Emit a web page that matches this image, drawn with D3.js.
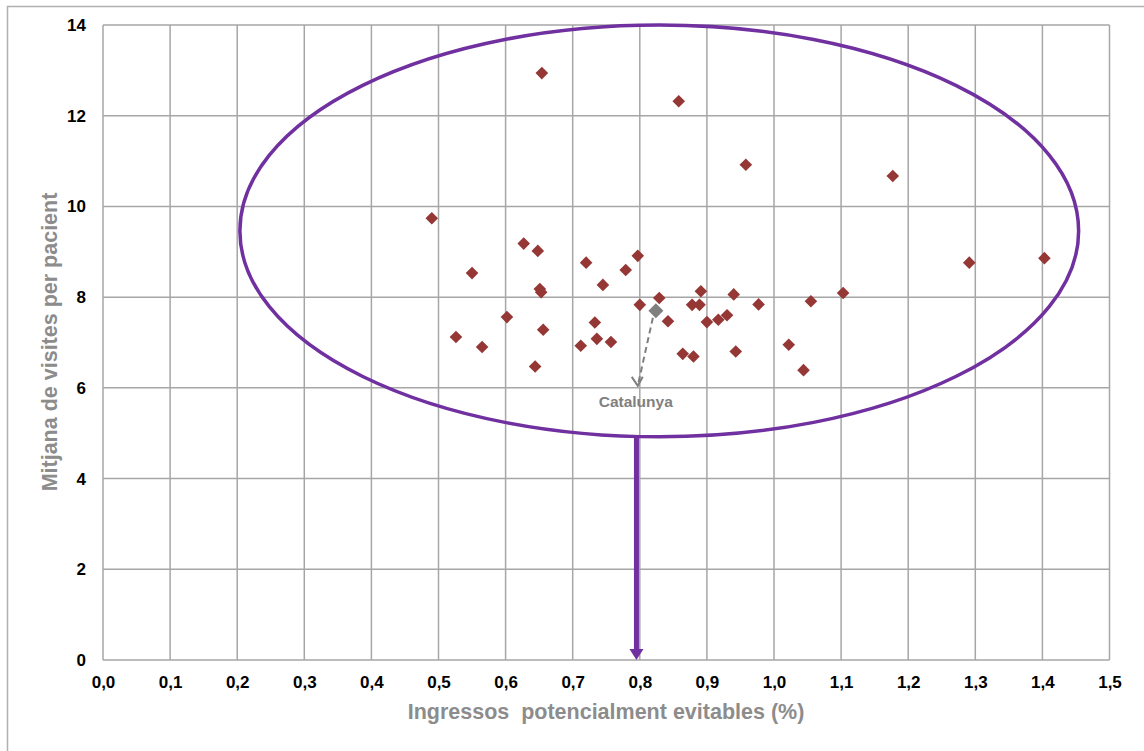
<!DOCTYPE html>
<html><head><meta charset="utf-8">
<script src="https://cdn.jsdelivr.net/npm/d3@7"></script>
<style>body{margin:0;background:#fff}svg{display:block}text{font-family:"Liberation Sans",Arial,sans-serif}</style>
</head><body><svg id="c" width="1144" height="751"></svg>
<script>
const xVals = [0.490,0.550,0.526,0.565,0.602,0.627,0.648,0.651,0.653,0.644,0.656,0.654,0.720,0.745,0.779,0.797,0.712,0.733,0.736,0.757,0.800,0.829,0.842,0.864,0.880,0.891,0.878,0.889,0.940,0.900,0.917,0.930,0.977,0.943,1.022,1.044,1.055,1.103,1.177,1.291,1.403,0.958,0.858];
const yVals = [9.74,8.53,7.12,6.90,7.56,9.18,9.02,8.18,8.11,6.47,7.28,12.94,8.76,8.27,8.60,8.91,6.93,7.44,7.08,7.01,7.83,7.98,7.47,6.75,6.69,8.13,7.83,7.83,8.06,7.45,7.50,7.60,7.84,6.80,6.95,6.39,7.91,8.09,10.67,8.76,8.86,10.92,12.32];
const catalunya = {label:"Catalunya", x:0.824, y:7.70, labelX:0.791, labelY:5.57};
const xTicks = [0,0.1,0.2,0.3,0.4,0.5,0.6,0.7,0.8,0.9,1.0,1.1,1.2,1.3,1.4,1.5];
const yTicks = [0,2,4,6,8,10,12,14];
const ellipse = {cx:0.829, cy:9.46, rx:0.625, ry:4.54};
const arrowX = 0.795;
const xTitle = "Ingressos  potencialment evitables (%)";
const yTitle = "Mitjana de visites per pacient";

const svg = d3.select("#c");
const L=103, R=1109.5, T=25, B=660;
const x = d3.scaleLinear().domain([0,1.5]).range([L,R]);
const y = d3.scaleLinear().domain([0,14]).range([B,T]);
const fmt = d => d.toFixed(1).replace(".", ",");

// outer frame
svg.append("path").attr("d","M7.5,751 V6.5 H1144").attr("fill","none").attr("stroke","#b0b0b0").attr("stroke-width",1.5);

// grid
const grid = svg.append("g").attr("stroke","#a6a6a6").attr("stroke-width",1.5);
xTicks.forEach(t=>grid.append("line").attr("x1",x(t)).attr("x2",x(t)).attr("y1",T).attr("y2",B));
yTicks.forEach(t=>grid.append("line").attr("x1",L).attr("x2",R).attr("y1",y(t)).attr("y2",y(t)));

// axes labels via d3 axes
const xa = svg.append("g").attr("transform",`translate(0,${B})`).call(d3.axisBottom(x).tickValues(xTicks).tickFormat(fmt).tickSize(0).tickPadding(16));
xa.select(".domain").remove();
xa.selectAll("text").attr("font-size",17).attr("font-weight","bold").attr("fill","#000").attr("font-family","Liberation Sans, Arial, sans-serif");
const ya = svg.append("g").attr("transform",`translate(${L},0)`).call(d3.axisLeft(y).tickValues(yTicks).tickFormat(d3.format("d")).tickSize(0).tickPadding(17));
ya.select(".domain").remove();
ya.selectAll("text").attr("font-size",17).attr("font-weight","bold").attr("fill","#000").attr("font-family","Liberation Sans, Arial, sans-serif");

// titles
svg.append("text").attr("x",606).attr("y",719).attr("text-anchor","middle").attr("font-size",21.5).attr("font-weight","bold").attr("fill","#8c8c8c").style("white-space","pre").text(xTitle);
svg.append("text").attr("transform","translate(57,342) rotate(-90)").attr("text-anchor","middle").attr("font-size",21.5).attr("font-weight","bold").attr("fill","#8c8c8c").text(yTitle);

// ellipse
svg.append("ellipse").attr("cx",x(ellipse.cx)).attr("cy",y(ellipse.cy))
  .attr("rx",x(ellipse.cx+ellipse.rx)-x(ellipse.cx)).attr("ry",y(ellipse.cy-ellipse.ry)-y(ellipse.cy))
  .attr("fill","none").attr("stroke","#7030A0").attr("stroke-width",3.5);

// purple arrow
const ax = x(arrowX), aTop = y(ellipse.cy-ellipse.ry), aBot = y(0);
svg.append("rect").attr("x",ax-2.5).attr("y",aTop).attr("width",5).attr("height",aBot-aTop-10).attr("fill","#7030A0");
svg.append("path").attr("d",`M${ax-7},${aBot-11} L${ax+7},${aBot-11} L${ax},${aBot} Z`).attr("fill","#7030A0");

// points
const diamond = (cx,cy,r) => `M${cx},${cy-r} L${cx+r},${cy} L${cx},${cy+r} L${cx-r},${cy} Z`;
svg.append("g").selectAll("path").data(xVals.map((v,i)=>[v,yVals[i]])).join("path")
  .attr("d",d=>diamond(x(d[0]),y(d[1]),6.3)).attr("fill","#953735");

// Catalunya
const cxp = x(catalunya.x), cyp = y(catalunya.y);
svg.append("path").attr("d",diamond(cxp,cyp,7.5)).attr("fill","#7f7f7f");
const tipX = x(catalunya.labelX)+4, tipY = y(6)-2;
svg.append("line").attr("x1",cxp-3).attr("y1",cyp+7).attr("x2",tipX).attr("y2",tipY)
  .attr("stroke","#7f7f7f").attr("stroke-width",2).attr("stroke-dasharray","6,4");
svg.append("path").attr("d",`M${tipX-6},${tipY-9} L${tipX},${tipY} L${tipX+5},${tipY-9}`).attr("fill","none").attr("stroke","#7f7f7f").attr("stroke-width",2);
svg.append("text").attr("x",x(catalunya.labelX)+2).attr("y",y(catalunya.labelY)).attr("text-anchor","middle").attr("font-size",15.5).attr("font-weight","bold").attr("fill","#808080").text(catalunya.label);
</script></body></html>
